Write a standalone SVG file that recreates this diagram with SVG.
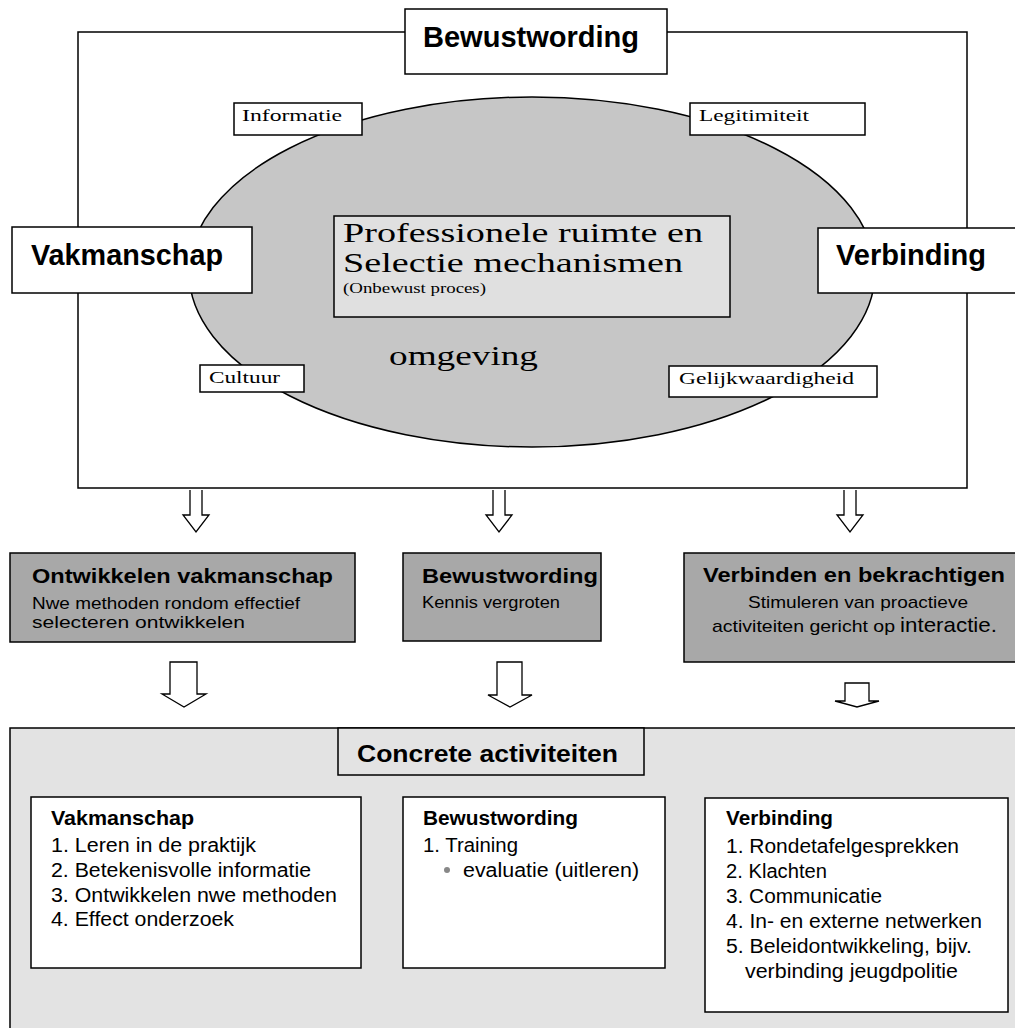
<svg xmlns="http://www.w3.org/2000/svg" width="1015" height="1028" viewBox="0 0 1015 1028">
<style>
.box{fill:#fff;stroke:#000;stroke-width:1.5}
.dark{fill:#a8a8a8;stroke:#000;stroke-width:1.5}
.arrow{fill:#fff;stroke:#000;stroke-width:1.3;stroke-linejoin:miter}
.bold{font-family:"Liberation Sans",Arial,sans-serif;font-weight:bold;fill:#000}
.sans{font-family:"Liberation Sans",Arial,sans-serif;fill:#000}
.serif{font-family:"Liberation Serif","Times New Roman",serif;fill:#000}
</style>
<rect width="1015" height="1028" fill="#fff"/>

<g id="frame">
<rect x="78" y="32" width="889" height="456" fill="#fff" stroke="#000" stroke-width="1.5"/>
</g>

<g id="omgeving">
<ellipse cx="532" cy="272" rx="343" ry="175" fill="#c6c6c6" stroke="#000" stroke-width="1.5"/>
<text class="serif" x="389" y="365" font-size="28" textLength="149" lengthAdjust="spacingAndGlyphs">omgeving</text>
</g>

<g id="bewustwording-top">
<rect class="box" x="405" y="9" width="262" height="65"/>
<text class="bold" x="531" y="47" font-size="29" text-anchor="middle" textLength="216" lengthAdjust="spacingAndGlyphs">Bewustwording</text>
</g>

<g id="informatie">
<rect class="box" x="234" y="103" width="128" height="32"/>
<text class="serif" x="242" y="121" font-size="16" textLength="100" lengthAdjust="spacingAndGlyphs">Informatie</text>
</g>
<g id="legitimiteit">
<rect class="box" x="690" y="103" width="175" height="32"/>
<text class="serif" x="699" y="121" font-size="16" textLength="110" lengthAdjust="spacingAndGlyphs">Legitimiteit</text>
</g>
<g id="cultuur">
<rect class="box" x="200" y="365" width="104" height="27"/>
<text class="serif" x="209" y="383" font-size="16" textLength="71" lengthAdjust="spacingAndGlyphs">Cultuur</text>
</g>
<g id="gelijkwaardigheid">
<rect class="box" x="669" y="366" width="208" height="31"/>
<text class="serif" x="679" y="384" font-size="16" textLength="175" lengthAdjust="spacingAndGlyphs">Gelijkwaardigheid</text>
</g>

<g id="vakmanschap-top">
<rect class="box" x="12" y="227" width="240" height="66"/>
<text class="bold" x="127" y="265" font-size="29" text-anchor="middle" textLength="192" lengthAdjust="spacingAndGlyphs">Vakmanschap</text>
</g>
<g id="verbinding-top">
<rect class="box" x="818" y="228" width="200" height="65"/>
<text class="bold" x="911" y="265" font-size="29" text-anchor="middle" textLength="150" lengthAdjust="spacingAndGlyphs">Verbinding</text>
</g>

<g id="professionele">
<rect x="334" y="216" width="396" height="101" fill="#e0e0e0" stroke="#000" stroke-width="1.5"/>
<text class="serif" x="343" y="242" font-size="28" textLength="360" lengthAdjust="spacingAndGlyphs">Professionele ruimte en</text>
<text class="serif" x="343" y="272" font-size="28" textLength="340" lengthAdjust="spacingAndGlyphs">Selectie mechanismen</text>
<text class="serif" x="343" y="293" font-size="14" textLength="143" lengthAdjust="spacingAndGlyphs">(Onbewust proces)</text>
</g>

<g id="ontwikkelen">
<rect class="dark" x="10" y="553" width="345" height="89"/>
<text class="bold" x="32" y="583" font-size="21" textLength="301" lengthAdjust="spacingAndGlyphs">Ontwikkelen vakmanschap</text>
<text class="sans" x="32" y="609" font-size="17" textLength="268" lengthAdjust="spacingAndGlyphs">Nwe methoden rondom effectief</text>
<text class="sans" x="32" y="628" font-size="17" textLength="213" lengthAdjust="spacingAndGlyphs">selecteren ontwikkelen</text>
</g>
<g id="bewustwording-mid">
<rect class="dark" x="403" y="553" width="198" height="88"/>
<text class="bold" x="422" y="583" font-size="21" textLength="176" lengthAdjust="spacingAndGlyphs">Bewustwording</text>
<text class="sans" x="422" y="608" font-size="17" textLength="138" lengthAdjust="spacingAndGlyphs">Kennis vergroten</text>
</g>
<g id="verbinden">
<rect class="dark" x="684" y="553" width="335" height="109"/>
<text class="bold" x="703" y="582" font-size="21" textLength="302" lengthAdjust="spacingAndGlyphs">Verbinden en bekrachtigen</text>
<text class="sans" x="748" y="608" font-size="17" textLength="220" lengthAdjust="spacingAndGlyphs">Stimuleren van proactieve</text>
<text class="sans" x="712" y="632" font-size="17" textLength="183" lengthAdjust="spacingAndGlyphs">activiteiten gericht op</text>
<text class="sans" x="900" y="632" font-size="21" textLength="97" lengthAdjust="spacingAndGlyphs">interactie.</text>
</g>

<g id="connectors">
<path class="arrow" d="M190 490 V515 H183 L196 532 L209 515 H202 V490"/>
<path class="arrow" d="M493 490 V515 H486 L499 532 L512 515 H505 V490"/>
<path class="arrow" d="M844 490 V515 H837 L850 532 L863 515 H856 V490"/>
<path class="arrow" d="M170 662 V694 H162 L184 707 L206 694 H197 V662 Z"/>
<path class="arrow" d="M497 662 V695 H488 L510 707 L532 695 H522 V662 Z"/>
<path class="arrow" d="M845 683 V701 H835 L857 707 L879 701 H869 V683 Z"/>
</g>

<g id="concrete-activiteiten">
<rect x="10" y="728" width="1010" height="310" fill="#e3e3e3" stroke="#000" stroke-width="1.5"/>
<rect x="338" y="728" width="306" height="47" fill="#e3e3e3" stroke="#000" stroke-width="1.5"/>
<text class="bold" x="357" y="762" font-size="24" textLength="261" lengthAdjust="spacingAndGlyphs">Concrete activiteiten</text>
</g>

<g id="act-vakmanschap">
<rect class="box" x="31" y="797" width="330" height="171"/>
<text class="bold" x="51" y="825" font-size="20" textLength="143" lengthAdjust="spacingAndGlyphs">Vakmanschap</text>
<text class="sans" x="51" y="852" font-size="20" textLength="205" lengthAdjust="spacingAndGlyphs">1. Leren in de praktijk</text>
<text class="sans" x="51" y="877" font-size="20" textLength="260" lengthAdjust="spacingAndGlyphs">2. Betekenisvolle informatie</text>
<text class="sans" x="51" y="902" font-size="20" textLength="286" lengthAdjust="spacingAndGlyphs">3. Ontwikkelen nwe methoden</text>
<text class="sans" x="51" y="926" font-size="20" textLength="183" lengthAdjust="spacingAndGlyphs">4. Effect onderzoek</text>
</g>

<g id="act-bewustwording">
<rect class="box" x="403" y="797" width="262" height="171"/>
<text class="bold" x="423" y="825" font-size="20" textLength="155" lengthAdjust="spacingAndGlyphs">Bewustwording</text>
<text class="sans" x="423" y="852" font-size="20" textLength="95" lengthAdjust="spacingAndGlyphs">1. Training</text>
<circle cx="447" cy="870" r="3" fill="#888"/>
<text class="sans" x="463" y="877" font-size="20" textLength="176" lengthAdjust="spacingAndGlyphs">evaluatie (uitleren)</text>
</g>

<g id="act-verbinding">
<rect class="box" x="705" y="798" width="303" height="214"/>
<text class="bold" x="726" y="825" font-size="20" textLength="107" lengthAdjust="spacingAndGlyphs">Verbinding</text>
<text class="sans" x="726" y="853" font-size="20" textLength="233" lengthAdjust="spacingAndGlyphs">1. Rondetafelgesprekken</text>
<text class="sans" x="726" y="878" font-size="20" textLength="101" lengthAdjust="spacingAndGlyphs">2. Klachten</text>
<text class="sans" x="726" y="903" font-size="20" textLength="156" lengthAdjust="spacingAndGlyphs">3. Communicatie</text>
<text class="sans" x="726" y="928" font-size="20" textLength="256" lengthAdjust="spacingAndGlyphs">4. In- en externe netwerken</text>
<text class="sans" x="726" y="953" font-size="20" textLength="246" lengthAdjust="spacingAndGlyphs">5. Beleidontwikkeling, bijv.</text>
<text class="sans" x="745" y="978" font-size="20" textLength="213" lengthAdjust="spacingAndGlyphs">verbinding jeugdpolitie</text>
</g>
</svg>
